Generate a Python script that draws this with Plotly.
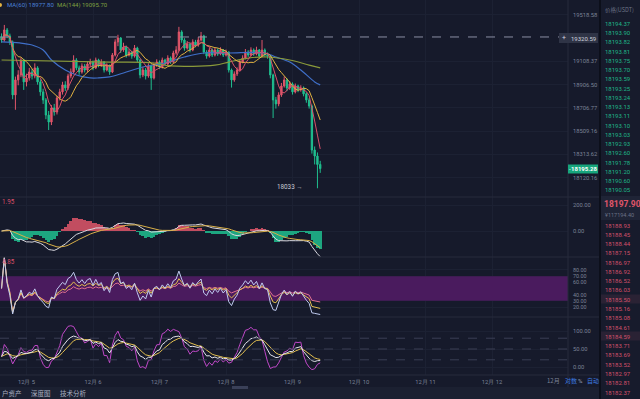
import math
import pandas as pd
import plotly.graph_objects as go

# ---------------- data ----------------
opens = [19320, 19294, 19383, 19330, 19277, 18817, 18946, 18989, 19119, 18929,
         18963, 19015, 18980, 19050, 18929, 18843, 18774, 18645, 18586, 18705,
         18671, 18791, 18843, 18903, 18877, 18980, 19015, 19119, 19050, 19015,
         19067, 19032, 19084, 19101, 19050, 19119, 19075, 19101, 19032, 19067,
         19015, 19162, 19277, 19312, 19206, 19232, 19162, 19188, 19153, 19223,
         19119, 18989, 19032, 18980, 19067, 18963, 19075, 19101, 19058, 19119,
         19084, 19136, 19101, 19180, 19206, 19365, 19294, 19223, 19258, 19206,
         19277, 19250, 19294, 19330, 19188, 19153, 19206, 19162, 19206, 19171,
         19206, 19162, 19188, 19032, 18946, 18998, 19032, 19101, 19136, 19188,
         19162, 19206, 19171, 19206, 19153, 19206, 19162, 19153, 18989, 18774,
         18740, 18817, 18894, 18946, 18877, 18911, 18843, 18894, 18860, 18877,
         18826, 18774, 18722, 18350, 18300, 18230]
highs = [19352, 19427, 19400, 19350, 19290, 18975, 19030, 19140, 19130, 19000,
         19050, 19040, 19090, 19065, 18950, 18870, 18790, 18680, 18730, 18740,
         18810, 18870, 18930, 18935, 19000, 19045, 19160, 19135, 19070, 19090,
         19085, 19110, 19130, 19115, 19140, 19130, 19125, 19110, 19090, 19080,
         19180, 19300, 19340, 19320, 19270, 19245, 19215, 19200, 19250, 19235,
         19130, 19060, 19050, 19090, 19080, 19095, 19125, 19115, 19140, 19130,
         19160, 19150, 19200, 19240, 19410, 19380, 19310, 19285, 19270, 19300,
         19295, 19320, 19365, 19340, 19205, 19230, 19220, 19225, 19220, 19230,
         19215, 19210, 19195, 19045, 19020, 19055, 19120, 19160, 19215, 19205,
         19230, 19220, 19235, 19215, 19294, 19220, 19185, 19160, 19000, 18800,
         18840, 18920, 18975, 18960, 18935, 18925, 18915, 18905, 18900, 18890,
         18840, 18790, 18735, 18380, 18330, 18260]
lows = [19270, 19280, 19310, 19250, 18780, 18690, 18900, 18970, 18860, 18890,
        18940, 18950, 18960, 18905, 18810, 18740, 18610, 18518, 18560, 18640,
        18650, 18770, 18820, 18850, 18860, 18960, 19000, 19030, 18990, 19000,
        19010, 19015, 19060, 19030, 19040, 19055, 19060, 19010, 19020, 18990,
        19005, 19150, 19240, 19180, 19190, 19140, 19150, 19130, 19140, 19100,
        18960, 18970, 18950, 18965, 18860, 18950, 19060, 19040, 19045, 19065,
        19070, 19085, 19090, 19165, 19195, 19270, 19200, 19210, 19185, 19195,
        19230, 19235, 19280, 19170, 19130, 19140, 19145, 19150, 19155, 19160,
        19145, 19150, 19010, 18880, 18930, 18980, 19020, 19090, 19125, 19145,
        19150, 19155, 19160, 19140, 19145, 19150, 19130, 18960, 18620, 18700,
        18720, 18800, 18880, 18850, 18860, 18820, 18830, 18840, 18845, 18805,
        18750, 18700, 18320, 18230, 18033, 18160]
closes = [19294, 19383, 19330, 19277, 18817, 18946, 18989, 19119, 18929, 18963,
          19015, 18980, 19050, 18929, 18843, 18774, 18645, 18586, 18705, 18671,
          18791, 18843, 18903, 18877, 18980, 19015, 19119, 19050, 19015, 19067,
          19032, 19084, 19101, 19050, 19119, 19075, 19101, 19032, 19067, 19015,
          19162, 19277, 19312, 19206, 19232, 19162, 19188, 19153, 19223, 19119,
          18989, 19032, 18980, 19067, 18963, 19075, 19101, 19058, 19119, 19084,
          19136, 19101, 19180, 19206, 19365, 19294, 19223, 19258, 19206, 19277,
          19250, 19294, 19330, 19188, 19153, 19206, 19162, 19206, 19171, 19206,
          19162, 19188, 19032, 18946, 18998, 19032, 19101, 19136, 19188, 19162,
          19206, 19171, 19206, 19153, 19206, 19162, 19153, 18989, 18774, 18740,
          18817, 18894, 18946, 18877, 18911, 18843, 18894, 18860, 18877, 18826,
          18774, 18722, 18350, 18300, 18230, 18195.28]
start_time = "2020-12-04 15:00"

# long moving averages (hour offset -> value)
ma60_hours = [0, 6.5, 11, 15, 18, 23, 27, 32, 35, 39, 44, 51, 59, 66, 73, 82, 95, 99, 104, 108, 113, 115]
ma60_vals = [19277, 19268, 19250, 19206, 19119, 19032, 18989, 18963, 18963, 18972, 19006,
             19058, 19093, 19145, 19180, 19180, 19180, 19145, 19101, 19032, 18929, 18903]
ma144_hours = [0, 39, 55, 61, 77, 82, 89, 96, 104, 111, 115]
ma144_vals = [19119, 19101, 19093, 19067, 19075, 19101, 19136, 19145, 19119, 19075, 19050]

price_ticks = [18120.16, 18313.62, 18509.16, 18706.77, 18906.50, 19108.37, 19518.58]
crosshair_price = 19320.59
last_price = 18195.28
low_mark = 18033

day_ticks = ["2020-12-05", "2020-12-06", "2020-12-07", "2020-12-08",
             "2020-12-09", "2020-12-10", "2020-12-11", "2020-12-12"]
day_labels = ["12月 5", "12月 6", "12月 7", "12月 8", "12月 9", "12月 10", "12月 11", "12月 12"]

ask_prices = ["18194.37", "18193.90", "18193.82", "18193.81", "18193.75", "18193.70",
              "18193.59", "18193.25", "18193.24", "18193.13", "18193.11", "18193.10",
              "18193.03", "18192.93", "18192.60", "18191.78", "18191.20", "18190.60", "18190.05"]
bid_prices = ["18188.93", "18188.45", "18188.44", "18187.15", "18186.97", "18186.92",
              "18186.52", "18186.03", "18185.50", "18185.16", "18185.08", "18184.61",
              "18184.59", "18183.71", "18183.69", "18183.52", "18182.97", "18182.81", "18182.37"]
book_last = "18197.90"
book_cny = "¥117194.40"

# ---------------- derived ----------------
times = pd.date_range(start_time, periods=len(closes), freq="h")
t0 = pd.Timestamp(start_time)
ma60_t = [t0 + pd.Timedelta(hours=h) for h in ma60_hours]
ma144_t = [t0 + pd.Timedelta(hours=h) for h in ma144_hours]

c = pd.Series(closes, dtype=float)
h = pd.Series(highs, dtype=float)
lo = pd.Series(lows, dtype=float)
ma5 = c.rolling(5, min_periods=1).mean()
ma10 = c.rolling(10, min_periods=1).mean()

ema12 = c.ewm(span=12, adjust=False).mean()
ema26 = c.ewm(span=26, adjust=False).mean()
dif = ema12 - ema26
dea = dif.ewm(span=9, adjust=False).mean()
hist = 2 * (dif - dea)


def rsi(n):
    d = c.diff().fillna(0)
    up = d.clip(lower=0).ewm(alpha=1 / n, adjust=False).mean()
    dn = (-d.clip(upper=0)).ewm(alpha=1 / n, adjust=False).mean()
    r = 100 * up / (up + dn)
    return r.fillna(50)


rsi6, rsi12, rsi24 = rsi(6), rsi(12), rsi(24)
ln = lo.rolling(9, min_periods=1).min()
hn = h.rolling(9, min_periods=1).max()
rsv = ((c - ln) / (hn - ln) * 100).fillna(50)
K = rsv.ewm(alpha=1 / 3, adjust=False).mean()
D = K.ewm(alpha=1 / 3, adjust=False).mean()
J = 3 * K - 2 * D

# ---------------- style ----------------
BG = "#161a2b"
RED = "#e0566a"
GREEN = "#1fbf8f"
TICK = dict(family="Roboto", size=5.8, color="#7c8397")
W, H = 640, 399


def px(x):
    return x / W


def py(y):
    return 1 - y / H


fig = go.Figure()

# main pane
fig.add_trace(go.Candlestick(x=times, open=opens, high=highs, low=lows, close=closes,
                             increasing=dict(line=dict(color=RED, width=1), fillcolor=RED),
                             decreasing=dict(line=dict(color=GREEN, width=1), fillcolor=GREEN),
                             whiskerwidth=0, xaxis="x", yaxis="y", hoverinfo="skip"))
fig.add_trace(go.Scatter(x=ma60_t, y=ma60_vals, mode="lines", line=dict(color="#3f6fc8", width=1.2),
                         xaxis="x", yaxis="y", line_shape="spline"))
fig.add_trace(go.Scatter(x=ma144_t, y=ma144_vals, mode="lines", line=dict(color="#8a9a3a", width=1.2),
                         xaxis="x", yaxis="y", line_shape="spline"))
fig.add_trace(go.Scatter(x=times, y=ma10, mode="lines", line=dict(color="#e3b341", width=1),
                         xaxis="x", yaxis="y"))
fig.add_trace(go.Scatter(x=times, y=ma5, mode="lines", line=dict(color="#d9506a", width=1),
                         xaxis="x", yaxis="y"))

# MACD pane
fig.add_trace(go.Bar(x=times, y=hist, marker=dict(color=[RED if v >= 0 else GREEN for v in hist],
                                                   line=dict(width=0)),
                     width=3600000, opacity=0.85, xaxis="x", yaxis="y2"))
fig.add_trace(go.Scatter(x=times, y=dif, mode="lines", line=dict(color="#d9d9e0", width=1),
                         xaxis="x", yaxis="y2"))
fig.add_trace(go.Scatter(x=times, y=dea, mode="lines", line=dict(color="#d9b048", width=1),
                         xaxis="x", yaxis="y2"))

# RSI pane
for ser, col in [(rsi24, "#e07090"), (rsi12, "#e3c050"), (rsi6, "#c0cbf0")]:
    fig.add_trace(go.Scatter(x=times, y=ser, mode="lines", line=dict(color=col, width=1),
                             xaxis="x", yaxis="y3"))

# KDJ pane
for ser, col in [(J, "#c048c8"), (D, "#e3c050"), (K, "#e6e6ee")]:
    fig.add_trace(go.Scatter(x=times, y=ser, mode="lines", line=dict(color=col, width=1),
                             xaxis="x", yaxis="y4"))

x_start = pd.Timestamp("2020-12-05") - pd.Timedelta(days=26.5 / 66.5)
x_end = pd.Timestamp("2020-12-05") + pd.Timedelta(days=(568 - 26.5) / 66.5)

p_top = 18120.16 * math.exp((177.7 / 23.3) * math.log(1.010678))
p_bot = 18120.16 * math.exp((-19.3 / 23.3) * math.log(1.010678))

common_y = dict(side="right", showgrid=True, gridcolor="#1c2133", zeroline=False, showline=False,
                ticks="", automargin=False, ticklabelstandoff=4, fixedrange=True)

fig.update_layout(
    width=W, height=H, margin=dict(l=0, r=0, t=0, b=0),
    paper_bgcolor=BG, plot_bgcolor=BG, showlegend=False, bargap=0, hovermode=False,
    xaxis=dict(domain=[0, 568 / W], range=[x_start, x_end], rangeslider=dict(visible=False),
               showgrid=True, gridcolor="#1c2133", tickvals=day_ticks, ticktext=day_labels,
               showticklabels=True, tickfont=TICK, anchor="y4", zeroline=False, showline=False,
               ticks="", ticklabelstandoff=2),
    yaxis=dict(domain=[py(197), py(0)], type="log",
               range=[math.log10(p_bot), math.log10(p_top)], tickfont=TICK,
               tickvals=price_ticks, ticktext=[f"{v:.2f}" for v in price_ticks], anchor="x", **common_y),
    yaxis2=dict(domain=[py(257), py(197)], range=[-200, 261.5], tickvals=[0, 200], tickfont=TICK,
                ticktext=["0.00", "200.00"], anchor="x", **common_y),
    yaxis3=dict(domain=[py(317), py(257)], range=[3.8, 101], tickvals=[20, 30, 40, 60, 70, 80],
                tickfont=dict(family="Roboto", size=5.4, color="#7c8397"),
                ticktext=["20.00", "30.00", "40.00", "60.00", "70.00", "80.00"], anchor="x", **common_y),
    yaxis4=dict(domain=[py(375), py(317)], range=[-22.2, 138.9], tickvals=[0, 50, 100], tickfont=TICK,
                ticktext=["0.00", "50.00", "100.00"], anchor="x", **common_y),
)

shapes = []
# RSI band
shapes.append(dict(type="rect", xref="x", yref="y3", x0=x_start, x1=x_end, y0=30, y1=70,
                   fillcolor="#4a1b5e", line=dict(width=0), layer="between"))
# KDJ dashed guides
for v in [20, 50, 80]:
    shapes.append(dict(type="line", xref="paper", yref="y4", x0=0, x1=568 / W, y0=v, y1=v,
                       line=dict(color="#3a3f55", width=1, dash="dash")))
# pane separators
for yy in [197, 257, 317, 375]:
    shapes.append(dict(type="line", xref="paper", yref="paper", x0=0, x1=600 / W, y0=py(yy), y1=py(yy),
                       line=dict(color="#262b3d", width=1)))
# axis divider and order-book divider
shapes.append(dict(type="line", xref="paper", yref="paper", x0=px(568), x1=px(568), y0=py(387), y1=1,
                   line=dict(color="#262b3d", width=1)))
shapes.append(dict(type="rect", xref="paper", yref="paper", x0=px(600), x1=px(640), y0=0, y1=1,
                   fillcolor="#171b2c", line=dict(width=0), layer="below"))
shapes.append(dict(type="line", xref="paper", yref="paper", x0=px(600), x1=px(600), y0=0, y1=1,
                   line=dict(color="#0c0f1a", width=2)))
# bottom bar
shapes.append(dict(type="rect", xref="paper", yref="paper", x0=0, x1=px(599), y0=0, y1=py(387),
                   fillcolor="#1b2031", line=dict(width=0)))
shapes.append(dict(type="rect", xref="paper", yref="paper", x0=px(232), x1=px(248), y0=py(389), y1=py(386),
                   fillcolor="#3a4058", line=dict(width=0)))
# crosshair line + label
shapes.append(dict(type="line", xref="paper", yref="y", x0=0, x1=568 / W, y0=crosshair_price, y1=crosshair_price,
                   line=dict(color="#8a8fa3", width=1, dash="dash")))
shapes.append(dict(type="rect", xref="paper", yref="paper", x0=px(559), x1=px(598), y0=py(43), y1=py(33),
                   fillcolor="#2f3446", line=dict(width=0)))
# last price tag
shapes.append(dict(type="rect", xref="paper", yref="paper", x0=px(568), x1=px(598), y0=py(173.5), y1=py(164.5),
                   fillcolor="#17a57c", line=dict(width=0)))
# order-book header boxes
shapes.append(dict(type="rect", xref="paper", yref="paper", x0=px(601), x1=px(640), y0=py(220), y1=py(196),
                   fillcolor="#1f2436", line=dict(width=0)))
for yy in [299, 336]:
    shapes.append(dict(type="rect", xref="paper", yref="paper", x0=px(601), x1=px(640), y0=py(yy + 4.5),
                       y1=py(yy - 4.5), fillcolor="#2a2234", line=dict(width=0)))
# legend dot
shapes.append(dict(type="circle", xref="paper", yref="paper", x0=px(-2), x1=px(2), y0=py(7), y1=py(3),
                   fillcolor="#e3b341", line=dict(width=0)))
fig.update_layout(shapes=shapes)

ann = []


def txt(x, y, s, color, size=6.3, anchor="left", family="Roboto", bold=False):
    if bold:
        s = f"<b>{s}</b>"
    ann.append(dict(x=px(x), y=py(y), xref="paper", yref="paper", text=s, showarrow=False,
                    xanchor=anchor, yanchor="middle", font=dict(family=family, size=size, color=color)))


txt(5, 5, "MA(60) 18977.80", "#4a80d8", size=6)
txt(55, 5, "MA(144) 19095.70", "#7fa040", size=6)
txt(0, 202, "1.95", "#d9506a")
txt(0, 262, "4.85", "#d9506a")
txt(564, 38, "+", "#d0d3de", size=7, anchor="center")
txt(583, 38, f"{crosshair_price:.2f}", "#d0d3de", size=6, anchor="center")
txt(570, 169, "-", "#ffffff", size=6, anchor="center")
txt(584, 169, f"{last_price:.2f}", "#ffffff", size=6, anchor="center", bold=True)
txt(305, 187, f"{low_mark} →", "#c9ccd6", anchor="right")
txt(562, 380, "12月", "#7c8397", size=6, family="Noto Sans CJK SC", anchor="right")
txt(563, 380, "对数", "#3d7be0", size=6, family="Noto Sans CJK SC", anchor="left")
txt(580, 380, "%", "#9aa0b4", size=6, anchor="center")
txt(593, 380, "自动", "#3d7be0", size=6, family="Noto Sans CJK SC", anchor="center")
txt(0, 393, "户资产", "#aab0c2", size=6.5, family="Noto Sans CJK SC")
txt(29, 393, "深度图", "#aab0c2", size=6.5, family="Noto Sans CJK SC")
txt(58, 393, "技术分析", "#aab0c2", size=6.5, family="Noto Sans CJK SC")
txt(603, 10, "价格(USDT)", "#6c7286", size=5.5, family="Noto Sans CJK SC")
for k, s in enumerate(ask_prices):
    txt(603, 23.3 + 9.26 * k, s, "#1fb487", size=6)
txt(602, 204, book_last, "#e0566a", size=8.5, bold=True)
txt(603, 214.5, book_cny, "#6c7286", size=5.5)
for k, s in enumerate(bid_prices):
    txt(603, 225 + 9.28 * k, s, "#d0506a", size=6)
fig.update_layout(annotations=ann)

fig.write_html("out.html", config={"displayModeBar": False, "staticPlot": True},
               post_script="document.body.style.margin='0';document.body.style.background='#161a2b';")
